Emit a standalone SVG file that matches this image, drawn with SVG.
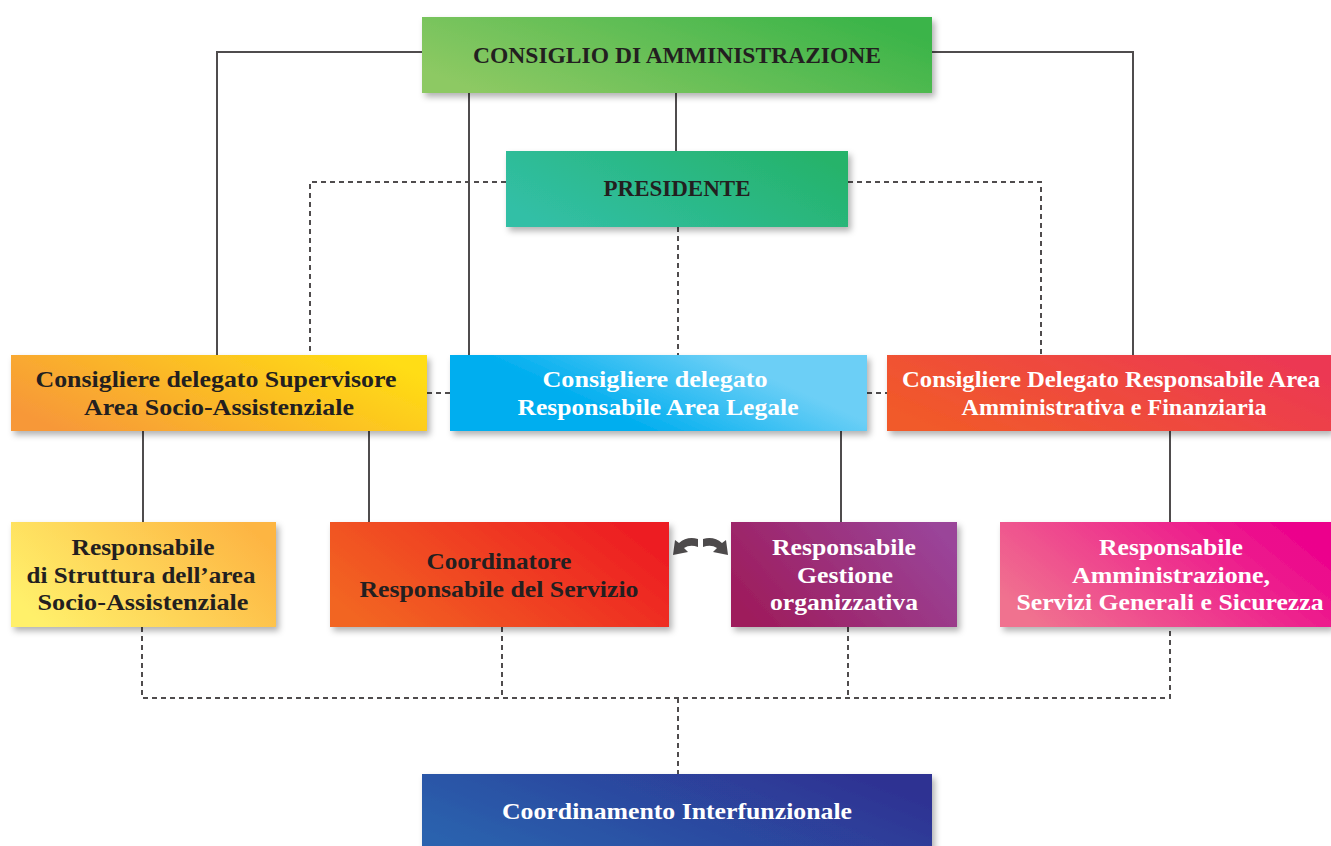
<svg xmlns="http://www.w3.org/2000/svg" width="1331" height="846" viewBox="0 0 1331 846">
<defs>
<filter id="sh" x="-10%" y="-20%" width="125%" height="150%">
<feDropShadow dx="3" dy="4" stdDeviation="3" flood-color="#000" flood-opacity="0.3"/>
</filter>
<linearGradient id="gCda" x1="0" y1="0.7" x2="1" y2="0.3"><stop offset="0" stop-color="#8DC963"/><stop offset="1" stop-color="#3AB449"/></linearGradient>
<linearGradient id="gPres" x1="0" y1="0.7" x2="1" y2="0.3"><stop offset="0" stop-color="#31BFA6"/><stop offset="1" stop-color="#26B36B"/></linearGradient>
<linearGradient id="gSup" x1="0" y1="0.7" x2="1" y2="0.3"><stop offset="0" stop-color="#F79839"/><stop offset="1" stop-color="#FFDD14"/></linearGradient>
<linearGradient id="gLeg" x1="0" y1="0.7" x2="1" y2="0.3"><stop offset="0.3" stop-color="#00AEEF"/><stop offset="0.8" stop-color="#6CCFF6"/></linearGradient>
<linearGradient id="gAmm" x1="0" y1="0.7" x2="1" y2="0.3"><stop offset="0" stop-color="#F15A29"/><stop offset="1" stop-color="#EC3853"/></linearGradient>
<linearGradient id="gStr" x1="0" y1="0.7" x2="1" y2="0.3"><stop offset="0" stop-color="#FFF06B"/><stop offset="1" stop-color="#FDB543"/></linearGradient>
<linearGradient id="gCoo" x1="0" y1="0.7" x2="1" y2="0.3"><stop offset="0" stop-color="#F26522"/><stop offset="1" stop-color="#ED1C24"/></linearGradient>
<linearGradient id="gGes" x1="0" y1="0.7" x2="1" y2="0.3"><stop offset="0" stop-color="#9E1C5C"/><stop offset="1" stop-color="#9A4499"/></linearGradient>
<linearGradient id="gSer" x1="0" y1="0.7" x2="1" y2="0.3"><stop offset="0" stop-color="#F0728F"/><stop offset="1" stop-color="#EC008C"/></linearGradient>
<linearGradient id="gInt" x1="0" y1="0.7" x2="1" y2="0.3"><stop offset="0" stop-color="#2A62AE"/><stop offset="1" stop-color="#2E3192"/></linearGradient>
</defs>
<style>
.s{fill:none;stroke:#4F4C4D;stroke-width:2}
.d{fill:none;stroke:#4F4C4D;stroke-width:2;stroke-dasharray:5 4}
.t{font-family:"Liberation Serif","Times New Roman",serif;font-weight:bold;font-size:24px;text-anchor:middle}
.c{font-size:23px}
.dk{fill:#231F20}
.wh{fill:#FFFFFF}
.arr{fill:#4D4A4B}
</style>
<g id="connectors">
<path class="s" d="M422 52 H217 V355"/>
<path class="s" d="M932 52 H1133 V355"/>
<path class="s" d="M469 93 V355"/>
<path class="s" d="M676 93 V151"/>
<path class="s" d="M143 431 V522"/>
<path class="s" d="M369 431 V522"/>
<path class="s" d="M841 431 V522"/>
<path class="s" d="M1170 431 V522"/>
<path class="d" d="M506 182 H310 V355"/>
<path class="d" d="M848 182 H1041 V355"/>
<path class="d" d="M678 227 V355"/>
<path class="d" d="M427 393 H450"/>
<path class="d" d="M867 393 H887"/>
<path class="d" d="M142 627 V698 H1170 V627"/>
<path class="d" d="M502 627 V698"/>
<path class="d" d="M848 627 V698"/>
<path class="d" d="M678 698 V774"/>
<path class="arr" d="M698 539 Q687 536 679 543 L675 540 L673 555 L688 552 L684 548 Q690 544 698 547 Z"/>
<path class="arr" d="M703 539 Q714 536 722 543 L726 540 L728 555 L713 552 L717 548 Q711 544 703 547 Z"/>
</g>
<g id="cda"><rect x="422" y="17" width="510" height="76" fill="url(#gCda)" filter="url(#sh)"/><text class="t c dk" x="677" y="63" textLength="408" lengthAdjust="spacingAndGlyphs">CONSIGLIO DI AMMINISTRAZIONE</text></g>
<g id="presidente"><rect x="506" y="151" width="342" height="76" fill="url(#gPres)" filter="url(#sh)"/><text class="t c dk" x="677" y="196" textLength="147" lengthAdjust="spacingAndGlyphs">PRESIDENTE</text></g>
<g id="supervisore"><rect x="11" y="355" width="416" height="76" fill="url(#gSup)" filter="url(#sh)"/><text class="t dk" x="216" y="387" textLength="361" lengthAdjust="spacingAndGlyphs">Consigliere delegato Supervisore</text><text class="t dk" x="219" y="415" textLength="270" lengthAdjust="spacingAndGlyphs">Area Socio-Assistenziale</text></g>
<g id="legale"><rect x="450" y="355" width="417" height="76" fill="url(#gLeg)" filter="url(#sh)"/><text class="t wh" x="655" y="387" textLength="225" lengthAdjust="spacingAndGlyphs">Consigliere delegato</text><text class="t wh" x="658" y="415" textLength="281" lengthAdjust="spacingAndGlyphs">Responsabile Area Legale</text></g>
<g id="amministrativa"><rect x="887" y="355" width="444" height="76" fill="url(#gAmm)" filter="url(#sh)"/><text class="t wh" x="1111" y="387" textLength="418" lengthAdjust="spacingAndGlyphs">Consigliere Delegato Responsabile Area</text><text class="t wh" x="1114" y="415" textLength="305" lengthAdjust="spacingAndGlyphs">Amministrativa e Finanziaria</text></g>
<g id="struttura"><rect x="11" y="522" width="265" height="105" fill="url(#gStr)" filter="url(#sh)"/><text class="t dk" x="143" y="555" textLength="143" lengthAdjust="spacingAndGlyphs">Responsabile</text><text class="t dk" x="141" y="583" textLength="229" lengthAdjust="spacingAndGlyphs">di Struttura dell’area</text><text class="t dk" x="143" y="610" textLength="211" lengthAdjust="spacingAndGlyphs">Socio-Assistenziale</text></g>
<g id="coordinatore"><rect x="330" y="522" width="339" height="105" fill="url(#gCoo)" filter="url(#sh)"/><text class="t dk" x="499" y="569" textLength="145" lengthAdjust="spacingAndGlyphs">Coordinatore</text><text class="t dk" x="499" y="597" textLength="279" lengthAdjust="spacingAndGlyphs">Responsabile del Servizio</text></g>
<g id="gestione"><rect x="731" y="522" width="226" height="105" fill="url(#gGes)" filter="url(#sh)"/><text class="t wh" x="844" y="555" textLength="144" lengthAdjust="spacingAndGlyphs">Responsabile</text><text class="t wh" x="845" y="583" textLength="96" lengthAdjust="spacingAndGlyphs">Gestione</text><text class="t wh" x="844" y="610" textLength="148" lengthAdjust="spacingAndGlyphs">organizzativa</text></g>
<g id="servizi"><rect x="1000" y="522" width="331" height="105" fill="url(#gSer)" filter="url(#sh)"/><text class="t wh" x="1171" y="555" textLength="144" lengthAdjust="spacingAndGlyphs">Responsabile</text><text class="t wh" x="1171" y="583" textLength="198" lengthAdjust="spacingAndGlyphs">Amministrazione,</text><text class="t wh" x="1170" y="610" textLength="307" lengthAdjust="spacingAndGlyphs">Servizi Generali e Sicurezza</text></g>
<g id="interfunzionale"><rect x="422" y="774" width="510" height="80" fill="url(#gInt)" filter="url(#sh)"/><text class="t wh" x="677" y="819" textLength="350" lengthAdjust="spacingAndGlyphs">Coordinamento Interfunzionale</text></g>
</svg>
